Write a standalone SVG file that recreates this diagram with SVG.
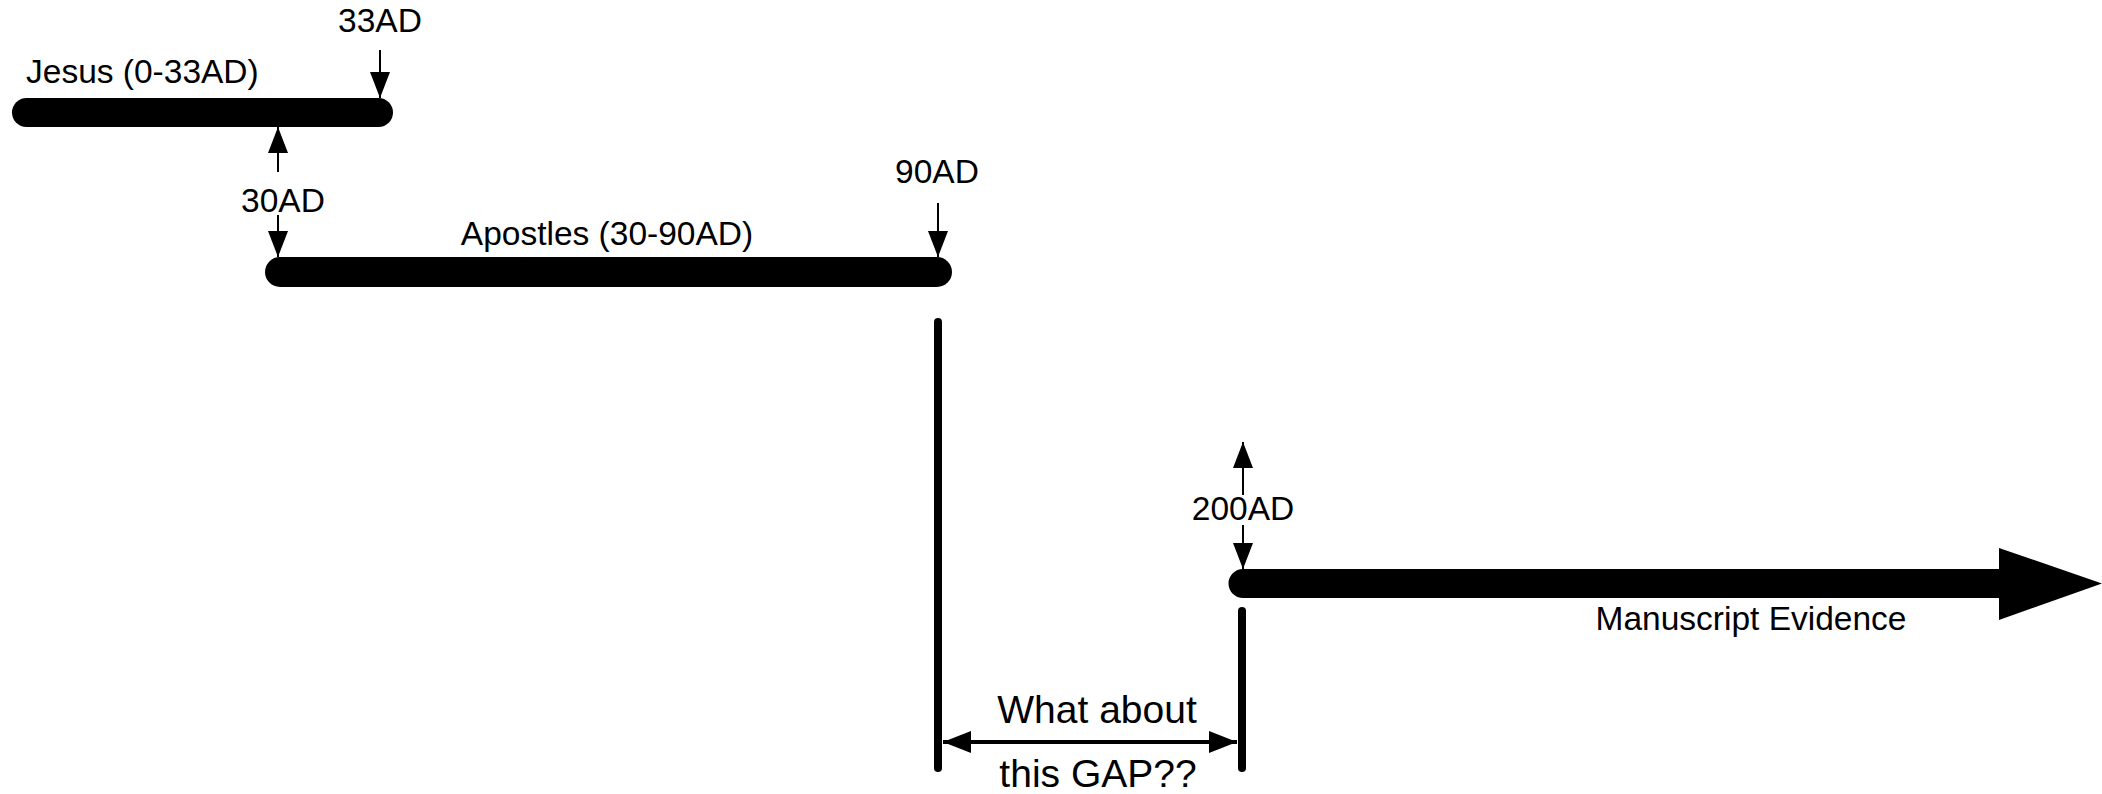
<svg xmlns="http://www.w3.org/2000/svg" width="2102" height="794" viewBox="0 0 2102 794">
<style>
text{font-family:"Liberation Sans",Arial,sans-serif;fill:#000}
.lbl{font-size:33.5px}
.gap{font-size:39px;text-anchor:middle}
.mid{text-anchor:middle}
.thin{stroke:#000;stroke-width:2;fill:none}
.thick{stroke:#000;stroke-width:8;stroke-linecap:round;fill:none}
</style>
<defs>
<marker id="ah" markerUnits="userSpaceOnUse" markerWidth="28" markerHeight="22" refX="26" refY="10" orient="auto">
<path d="M0,0 L26,10 L0,20 Z" fill="#000"/>
</marker>
<marker id="ah2" markerUnits="userSpaceOnUse" markerWidth="30" markerHeight="24" refX="28" refY="11" orient="auto-start-reverse">
<path d="M0,0 L28,11 L0,22 Z" fill="#000"/>
</marker>
</defs>
<rect width="2102" height="794" fill="#fff"/>
<g id="jesus">
<rect x="12" y="98" width="381" height="29" rx="14.5" fill="#000"/>
<text class="lbl" x="26" y="83">Jesus (0-33AD)</text>
</g>
<g id="apostles">
<rect x="265" y="257" width="687" height="30" rx="15" fill="#000"/>
<text class="lbl mid" x="607" y="245">Apostles (30-90AD)</text>
</g>
<g id="manuscript">
<path d="M1243,569 L1999,569 L1999,548 L2102,583.5 L1999,620 L1999,598 L1243,598 A14.5,14.5 0 0 1 1243,569 Z" fill="#000"/>
<text class="lbl mid" x="1751" y="630">Manuscript Evidence</text>
</g>
<g id="label-33AD"><text class="lbl mid" x="380" y="32">33AD</text></g>
<g id="label-30AD"><text class="lbl mid" x="283" y="212">30AD</text></g>
<g id="label-90AD"><text class="lbl mid" x="937" y="183">90AD</text></g>
<g id="label-200AD"><text class="lbl mid" x="1243" y="520">200AD</text></g>
<g id="gap-label">
<text class="gap" x="1097" y="723">What about</text>
<text class="gap" x="1098" y="787">this GAP??</text>
</g>
<g id="connectors">
<line class="thin" x1="380" y1="50" x2="380" y2="98" marker-end="url(#ah)"/>
<line class="thin" x1="278" y1="172" x2="278" y2="127" marker-end="url(#ah)"/>
<line class="thin" x1="278" y1="215" x2="278" y2="257" marker-end="url(#ah)"/>
<line class="thin" x1="938" y1="203" x2="938" y2="257" marker-end="url(#ah)"/>
<line class="thin" x1="1243" y1="495" x2="1243" y2="442" marker-end="url(#ah)"/>
<line class="thin" x1="1243" y1="525" x2="1243" y2="569" marker-end="url(#ah)"/>
<line class="thick" x1="938" y1="322" x2="938" y2="768"/>
<line class="thick" x1="1242" y1="611" x2="1242" y2="768"/>
<line stroke="#000" stroke-width="4" x1="943" y1="742" x2="1237" y2="742" marker-start="url(#ah2)" marker-end="url(#ah2)"/>
</g>
</svg>
